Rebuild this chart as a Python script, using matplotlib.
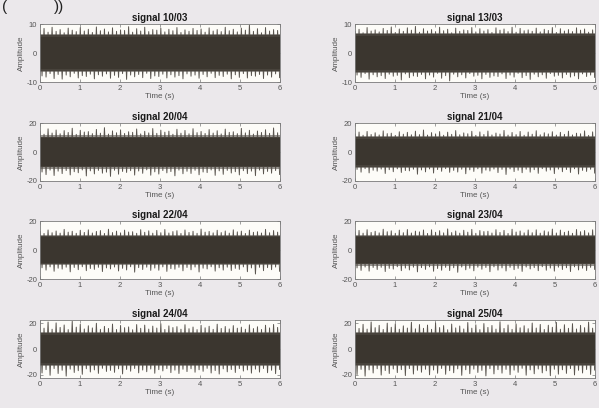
import numpy as np
import matplotlib
matplotlib.use("Agg")
import matplotlib.pyplot as plt

plt.rcParams['font.family'] = ['Liberation Sans', 'DejaVu Sans']
plt.rcParams['axes.unicode_minus'] = False

titles = ["signal 10/03", "signal 13/03", "signal 20/04", "signal 21/04",
          "signal 22/04", "signal 23/04", "signal 24/04", "signal 25/04"]
ylims = [10, 10, 20, 20, 20, 20, 22.5, 22.5]
yticks = [[-10, 0, 10], [-10, 0, 10], [-20, 0, 20], [-20, 0, 20],
          [-20, 0, 20], [-20, 0, 20], [-20, 0, 20], [-20, 0, 20]]
xticks = [0, 1, 2, 3, 4, 5, 6]
duration = 6

# dense core amplitude and medium-density zone
core = [5.6, 6.0, 9.5, 9.2, 8.8, 9.0, 11.0, 11.0]
mid = [6.6, 7.0, 11.5, 11.0, 10.5, 10.7, 13.5, 13.5]

# peak envelopes (upper / lower spikes)
up1 = [7.8, 8.5, 7.2, 8.9, 7.5, 8.1, 7.0, 8.6, 7.9, 7.4, 8.8, 7.6, 8.2, 7.1, 9.0, 7.7, 8.3, 7.3, 8.7, 7.5,
       8.0, 7.8, 9.1, 7.2, 8.4, 7.6, 8.9, 7.4, 8.1, 7.9, 8.6, 7.3, 8.2, 7.7, 8.8, 7.1, 8.0, 7.5, 8.5, 7.8,
       8.3, 7.2, 8.7, 7.6, 8.1, 7.4, 8.9, 7.7, 8.2, 7.3, 8.6, 7.9, 9.7, 7.5, 8.4, 7.0, 8.8, 7.6, 8.1, 7.8]
lo1 = [-7.9, -8.3, -7.1, -8.8, -7.4, -9.0, -7.6, -8.2, -7.0, -8.6, -7.8, -8.1, -7.3, -8.9, -7.5, -8.0, -7.2, -8.7, -7.7, -8.4,
       -7.1, -9.1, -7.6, -8.2, -7.4, -8.5, -7.0, -8.8, -7.9, -8.1, -7.3, -8.6, -7.5, -8.3, -7.8, -8.9, -7.2, -8.0, -7.6, -8.7,
       -7.4, -8.2, -7.0, -8.5, -7.7, -8.1, -7.3, -8.9, -7.5, -8.4, -7.1, -8.6, -7.8, -8.0, -7.4, -8.8, -7.6, -8.3, -7.2, -8.5]
up2 = [7.4, 8.2, 7.0, 8.8, 7.6, 8.0, 7.3, 8.5, 7.8, 9.0, 7.1, 8.3, 7.5, 8.7, 7.9, 9.2, 7.2, 8.4, 7.6, 8.1,
       7.4, 8.9, 7.7, 8.2, 7.0, 8.6, 7.5, 8.0, 7.8, 8.8, 7.3, 8.4, 7.6, 8.1, 7.1, 8.7, 7.9, 8.3, 7.4, 8.9,
       7.2, 8.5, 7.7, 8.0, 7.5, 8.6, 7.3, 8.2, 7.8, 8.8, 7.1, 8.4, 7.6, 8.1, 7.4, 8.7, 7.9, 8.3, 7.2, 8.0]
lo2 = [-7.6, -8.4, -7.1, -9.0, -7.5, -8.2, -7.8, -8.8, -7.3, -8.0, -7.7, -9.3, -7.2, -8.5, -7.9, -8.1, -7.4, -8.9, -7.6, -8.3,
       -7.0, -8.7, -7.8, -9.6, -7.3, -8.2, -7.5, -8.6, -7.1, -8.0, -7.7, -8.9, -7.4, -8.4, -7.9, -8.1, -7.2, -8.8, -7.6, -8.3,
       -7.0, -8.5, -7.8, -9.1, -7.3, -8.2, -7.5, -8.7, -7.1, -8.0, -7.7, -8.6, -7.4, -8.3, -7.9, -8.9, -7.2, -8.1, -7.6, -8.4]
up3 = [14.5, 12.3, 16.0, 13.1, 15.2, 12.6, 14.8, 13.5, 16.4, 12.2, 15.0, 13.8, 14.1, 12.7, 15.6, 13.0, 16.8, 12.4, 14.6, 13.3,
       15.3, 12.8, 14.0, 13.6, 15.9, 12.5, 14.3, 13.2, 16.2, 12.9, 15.1, 13.7, 14.4, 12.3, 15.7, 13.0, 14.9, 12.6, 16.1, 13.4,
       14.2, 12.8, 15.5, 13.1, 14.7, 12.5, 15.8, 13.6, 14.0, 12.7, 16.3, 13.2, 15.0, 12.4, 14.5, 13.5, 15.4, 12.9, 16.6, 13.3]
lo3 = [-13.8, -15.6, -12.5, -16.2, -13.2, -14.9, -12.8, -15.8, -13.6, -14.3, -12.4, -16.5, -13.0, -15.1, -12.7, -14.6, -13.9, -16.8, -12.6, -15.3,
       -13.4, -14.1, -12.9, -15.9, -13.1, -14.7, -12.3, -16.0, -13.7, -15.2, -12.8, -14.4, -13.5, -16.4, -12.5, -15.0, -13.3, -14.8, -12.6, -15.7,
       -13.8, -14.2, -12.4, -16.1, -13.0, -15.4, -12.7, -14.5, -13.6, -15.8, -12.9, -14.9, -13.2, -16.3, -12.5, -15.1, -13.4, -14.6, -12.8, -15.5]
up4 = [12.4, 13.8, 11.6, 14.2, 12.1, 13.3, 11.8, 14.6, 12.7, 13.0, 11.5, 14.0, 12.3, 13.6, 11.9, 14.4, 12.0, 15.2, 11.7, 13.4,
       12.5, 14.1, 11.6, 13.7, 12.2, 14.8, 11.9, 13.2, 12.6, 14.3, 11.5, 13.9, 12.1, 14.5, 11.8, 13.1, 12.4, 14.9, 11.7, 13.5,
       12.0, 14.2, 11.6, 13.8, 12.3, 14.7, 11.9, 13.3, 12.5, 14.0, 11.7, 13.6, 12.2, 14.4, 11.8, 13.0, 12.6, 14.6, 11.5, 13.9]
lo4 = [-12.0, -13.9, -11.5, -14.4, -12.6, -13.2, -11.8, -14.8, -12.2, -13.6, -11.6, -14.1, -12.8, -13.0, -11.9, -15.3, -12.4, -13.7, -11.7, -14.5,
       -12.1, -13.3, -11.5, -14.0, -12.7, -13.8, -11.9, -15.0, -12.3, -13.4, -11.6, -14.6, -12.5, -13.1, -11.8, -14.2, -12.0, -15.5, -11.7, -13.5,
       -12.6, -14.3, -11.9, -13.9, -12.2, -14.7, -11.5, -13.2, -12.4, -14.9, -11.8, -13.6, -12.1, -14.1, -11.6, -15.2, -12.7, -13.4, -11.9, -14.5]
up5 = [12.8, 11.5, 13.9, 12.0, 13.2, 11.7, 14.3, 12.4, 13.0, 11.6, 13.7, 12.2, 14.0, 11.8, 12.9, 13.5, 11.5, 14.4, 12.1, 13.1,
       11.9, 13.8, 12.5, 12.7, 11.6, 14.1, 12.3, 13.3, 11.7, 13.6, 12.0, 14.2, 11.8, 12.8, 13.4, 11.5, 13.9, 12.2, 13.0, 11.6,
       14.5, 12.4, 12.9, 11.9, 13.7, 12.1, 13.2, 11.7, 14.0, 12.6, 13.1, 11.5, 13.8, 12.3, 12.7, 11.8, 14.3, 12.0, 13.5, 12.4]
lo5 = [-12.2, -13.8, -11.6, -14.6, -12.5, -13.1, -11.8, -15.0, -12.0, -13.5, -11.5, -14.2, -12.7, -13.3, -11.9, -14.8, -12.3, -13.0, -11.7, -14.4,
       -12.6, -13.7, -11.5, -15.2, -12.1, -13.4, -11.8, -14.0, -12.4, -13.9, -11.6, -14.7, -12.8, -13.2, -11.9, -14.3, -12.0, -13.6, -11.7, -15.1,
       -12.5, -13.0, -11.5, -14.5, -12.2, -13.8, -11.8, -14.1, -12.6, -13.3, -11.6, -14.9, -12.3, -16.5, -11.9, -14.2, -12.1, -13.5, -11.7, -14.6]
up6 = [12.5, 13.6, 11.7, 14.1, 12.2, 13.0, 11.9, 14.4, 12.7, 13.3, 11.6, 13.8, 12.0, 14.2, 11.8, 13.1, 12.6, 13.9, 11.5, 14.0,
       12.3, 13.4, 11.9, 14.6, 12.1, 13.2, 11.7, 13.7, 12.4, 14.3, 11.6, 13.5, 12.8, 13.0, 11.8, 14.1, 12.2, 13.6, 11.5, 14.4,
       12.5, 13.2, 11.9, 13.9, 12.0, 14.0, 11.7, 13.3, 12.6, 14.5, 11.8, 13.8, 12.3, 13.1, 11.6, 14.2, 12.7, 13.5, 11.9, 14.0]
lo6 = [-12.3, -14.0, -11.7, -14.5, -12.0, -13.4, -11.9, -14.8, -12.6, -13.1, -11.5, -14.2, -12.4, -13.7, -11.8, -15.0, -12.1, -13.3, -11.6, -14.6,
       -12.7, -13.9, -11.9, -14.1, -12.2, -15.3, -11.7, -13.6, -12.5, -14.3, -11.8, -13.2, -12.0, -14.9, -11.6, -13.8, -12.3, -14.4, -11.9, -13.5,
       -12.6, -14.7, -11.7, -13.0, -12.1, -14.2, -11.5, -13.9, -12.4, -14.5, -11.8, -13.4, -12.2, -14.8, -11.6, -13.7, -12.5, -14.1, -11.9, -13.3]
up7 = [19.5, 16.2, 21.0, 15.4, 20.3, 16.8, 18.7, 15.1, 21.5, 17.0, 19.2, 15.6, 18.1, 16.4, 20.0, 15.3, 17.6, 16.0, 19.4, 15.2,
       18.3, 16.6, 17.2, 15.0, 19.0, 16.1, 18.6, 15.5, 17.8, 16.3, 19.7, 15.2, 18.0, 16.7, 17.4, 15.4, 18.9, 15.8, 17.1, 15.1,
       18.4, 16.5, 17.7, 15.3, 19.3, 16.0, 17.5, 15.6, 18.2, 16.2, 17.0, 15.4, 18.8, 15.9, 17.3, 15.2, 18.5, 16.4, 19.1, 16.8]
lo7 = [-18.6, -16.0, -20.4, -15.2, -19.0, -16.5, -21.0, -15.6, -18.2, -16.8, -19.6, -15.3, -17.8, -16.2, -18.9, -15.0, -17.4, -16.6, -18.1, -15.4,
       -19.3, -15.8, -17.2, -15.1, -18.5, -16.3, -17.6, -15.5, -18.8, -16.0, -17.0, -15.2, -18.3, -16.4, -19.0, -15.7, -17.5, -15.3, -18.0, -16.1,
       -17.3, -15.0, -18.6, -16.7, -19.4, -15.4, -17.7, -15.9, -18.2, -15.2, -17.1, -16.2, -18.7, -15.6, -17.9, -15.1, -18.4, -16.5, -19.1, -15.8]
up8 = [20.5, 16.0, 19.2, 15.5, 21.0, 16.6, 18.4, 15.2, 20.1, 16.9, 19.6, 15.4, 18.0, 16.3, 20.8, 15.7, 19.0, 16.1, 18.6, 15.3,
       20.3, 16.7, 18.2, 15.0, 19.4, 16.4, 17.9, 15.6, 20.6, 16.2, 18.8, 15.1, 19.8, 16.8, 18.3, 15.5, 21.2, 16.0, 18.7, 15.3,
       19.5, 16.5, 18.1, 15.8, 20.2, 16.3, 19.1, 15.2, 18.5, 16.9, 20.7, 15.4, 18.9, 16.1, 19.7, 15.6, 18.4, 16.6, 20.9, 16.2]
lo8 = [-19.8, -15.8, -21.0, -16.2, -18.6, -15.3, -20.2, -16.7, -19.0, -15.5, -18.3, -16.0, -20.6, -15.2, -19.4, -16.5, -18.0, -15.7, -20.0, -16.3,
       -18.8, -15.1, -19.6, -16.8, -18.4, -15.4, -20.4, -16.1, -19.1, -15.6, -18.2, -16.6, -20.8, -15.3, -19.3, -16.0, -18.7, -15.8, -19.9, -16.4,
       -18.1, -15.0, -20.3, -16.2, -19.2, -15.5, -18.5, -16.9, -20.7, -15.7, -19.5, -16.1, -18.9, -15.2, -20.1, -16.5, -18.6, -15.9, -19.7, -16.3]

uppers = [up1, up2, up3, up4, up5, up6, up7, up8]
lowers = [lo1, lo2, lo3, lo4, lo5, lo6, lo7, lo8]

fig_bg = '#ebe8eb'
ax_bg = '#fdfcf8'
core_col = '#3b362f'
band_col = '#48433c'
mid_col = '#6e6a64'
spike_col = '#5a554f'
axis_col = '#7a7a7a'
txt_col = '#555555'

fig = plt.figure(figsize=(5.99, 4.08), dpi=100, facecolor=fig_bg)

lefts = [0.0668, 0.5927]
width = 0.400
bottoms = [0.799, 0.5564, 0.316, 0.0735]
height = 0.142

for i in range(8):
    r, c = divmod(i, 2)
    ax = fig.add_axes([lefts[c], bottoms[r], width, height], facecolor=ax_bg)
    up = np.array(uppers[i])
    lo = np.array(lowers[i])
    n = len(up)
    t = np.linspace(0, duration, 2 * n)
    y = np.empty(2 * n)
    y[0::2] = up
    y[1::2] = lo
    ax.fill_between([0, duration], [-mid[i]] * 2, [mid[i]] * 2, color=mid_col,
                    lw=0, alpha=0.7, zorder=1)
    ax.plot(t, y, color=spike_col, lw=0.7, zorder=2)
    half = (core[i] + mid[i]) / 2
    ax.fill_between([0, duration], [-half] * 2, [half] * 2, color=band_col, lw=0, zorder=3)
    ax.fill_between([0, duration], [-core[i]] * 2, [core[i]] * 2, color=core_col, lw=0, zorder=4)
    ax.set_xlim(0, duration)
    ax.set_ylim(-ylims[i], ylims[i])
    ax.set_xticks(xticks)
    ax.set_yticks(yticks[i])
    ax.tick_params(direction='in', length=2, width=0.5, colors=axis_col,
                   labelcolor=txt_col, labelsize=5.5, pad=2,
                   top=True, right=True)
    for s in ax.spines.values():
        s.set_color(axis_col)
        s.set_linewidth(0.6)
        s.set_zorder(5)
    ax.set_title(titles[i], fontsize=7, fontweight='bold', color='#1a1a1a', pad=2)
    ax.set_xlabel('Time (s)', fontsize=5.8, color=txt_col, labelpad=1)
    ax.set_ylabel('Amplitude', fontsize=5.8, color=txt_col, labelpad=1)

fig.text(0.004, 0.999, '(', fontsize=11, color='#222222', va='top', ha='left')
fig.text(0.09, 0.999, '))', fontsize=11, color='#222222', va='top', ha='left')

fig.savefig('out.png', dpi=100, facecolor=fig_bg)
